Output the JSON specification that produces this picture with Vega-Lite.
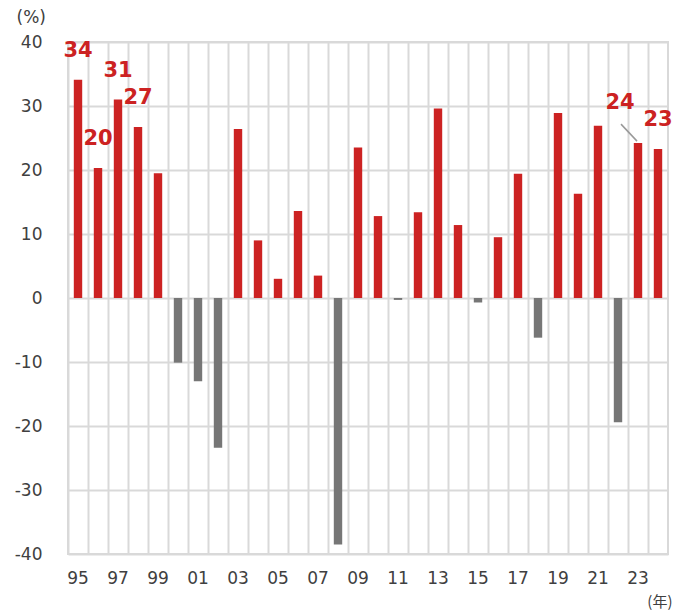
{
  "$schema": "https://vega.github.io/schema/vega-lite/v6.json",
  "width": 600,
  "height": 512,
  "autosize": "none",
  "padding": {"left": 68, "top": 42, "right": 16, "bottom": 60},
  "background": "white",
  "config": {
    "view": {"stroke": "#d9d9d9", "strokeWidth": 2},
    "font": "DejaVu Sans"
  },
  "data": {
    "values": [
      {"year": "95", "value": 34.1, "label": "34"},
      {"year": "96", "value": 20.3, "label": "20"},
      {"year": "97", "value": 31.0, "label": "31"},
      {"year": "98", "value": 26.7, "label": "27"},
      {"year": "99", "value": 19.5},
      {"year": "00", "value": -10.1},
      {"year": "01", "value": -13.0},
      {"year": "02", "value": -23.4},
      {"year": "03", "value": 26.4},
      {"year": "04", "value": 9.0},
      {"year": "05", "value": 3.0},
      {"year": "06", "value": 13.6},
      {"year": "07", "value": 3.5},
      {"year": "08", "value": -38.5},
      {"year": "09", "value": 23.5},
      {"year": "10", "value": 12.8},
      {"year": "11", "value": -0.3},
      {"year": "12", "value": 13.4},
      {"year": "13", "value": 29.6},
      {"year": "14", "value": 11.4},
      {"year": "15", "value": -0.7},
      {"year": "16", "value": 9.5},
      {"year": "17", "value": 19.4},
      {"year": "18", "value": -6.2},
      {"year": "19", "value": 28.9},
      {"year": "20", "value": 16.3},
      {"year": "21", "value": 26.9},
      {"year": "22", "value": -19.4},
      {"year": "23", "value": 24.2, "label": "24"},
      {"year": "24", "value": 23.3, "label": "23"}
    ]
  },
  "encoding": {
    "x": {
      "field": "year",
      "type": "ordinal",
      "sort": null,
      "scale": {"paddingInner": 0, "paddingOuter": 0},
      "axis": {
        "title": "(年)",
        "titleFont": "Noto Sans CJK JP",
        "titleFontWeight": "normal",
        "titleFontSize": 15,
        "titleColor": "#404040",
        "titleAlign": "right",
        "titleBaseline": "middle",
        "titleX": 604,
        "titleY": 47,
        "labelAngle": 0,
        "labelFontSize": 17,
        "labelColor": "#404040",
        "labelPadding": 16,
        "labelExpr": "toNumber(datum.value) % 2 == 1 ? datum.value : ''",
        "ticks": false,
        "domain": false,
        "grid": true,
        "bandPosition": 0,
        "gridColor": "#d9d9d9",
        "gridWidth": 2
      }
    },
    "y": {
      "field": "value",
      "type": "quantitative",
      "scale": {"domain": [-40, 40], "nice": false, "zero": true},
      "axis": {
        "values": [-40, -30, -20, -10, 0, 10, 20, 30, 40],
        "labelExpr": "'' + datum.value",
        "title": "(%)",
        "titleAngle": 0,
        "titleFontWeight": "normal",
        "titleFontSize": 17,
        "titleColor": "#404040",
        "titleAlign": "left",
        "titleBaseline": "middle",
        "titleX": -52,
        "titleY": -25,
        "labelFontSize": 17,
        "labelColor": "#404040",
        "labelPadding": 26,
        "ticks": false,
        "domain": false,
        "grid": true,
        "gridColor": "#d9d9d9",
        "gridWidth": 2
      }
    }
  },
  "layer": [
    {
      "mark": {"type": "bar", "width": {"band": 0.42}},
      "encoding": {
        "color": {
          "condition": {"test": "datum.value < 0", "value": "#767676"},
          "value": "#cc2222"
        }
      }
    },
    {
      "transform": [{"filter": "datum.label && datum.year != '23'"}],
      "mark": {
        "type": "text",
        "dy": -29,
        "baseline": "middle",
        "align": "center",
        "fontSize": 21,
        "fontWeight": "bold",
        "color": "#cc2222"
      },
      "encoding": {"text": {"field": "label"}}
    },
    {
      "transform": [{"filter": "datum.year == '23'"}],
      "mark": {
        "type": "text",
        "dx": -18,
        "dy": -40,
        "baseline": "middle",
        "align": "center",
        "fontSize": 21,
        "fontWeight": "bold",
        "color": "#cc2222"
      },
      "encoding": {"text": {"field": "label"}}
    },
    {
      "transform": [{"filter": "datum.year == '23'"}],
      "mark": {
        "type": "rule",
        "color": "#999999",
        "strokeWidth": 1.5,
        "xOffset": -1,
        "yOffset": -2,
        "x2Offset": -17,
        "y2Offset": -19
      },
      "encoding": {
        "x": {"field": "year", "type": "ordinal", "sort": null, "bandPosition": 0.5},
        "x2": {"field": "year", "bandPosition": 0.5},
        "y2": {"field": "value"}
      }
    }
  ]
}
